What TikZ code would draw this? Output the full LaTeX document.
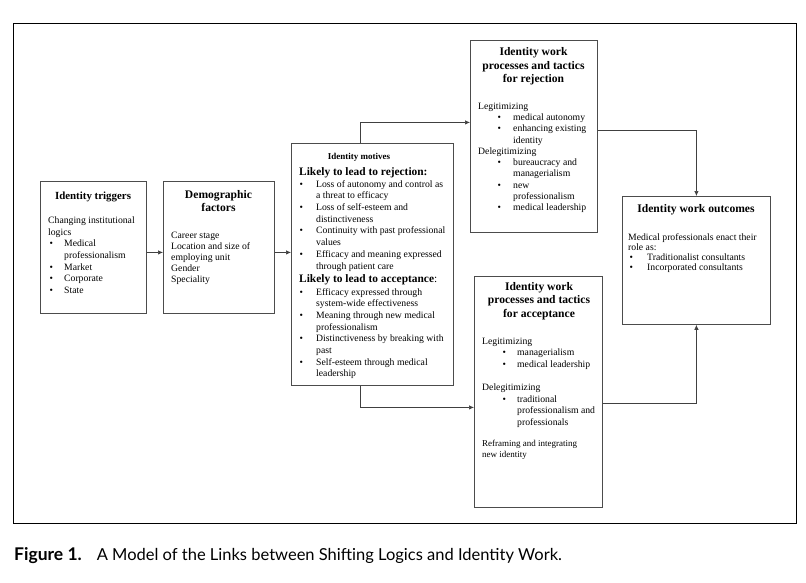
\documentclass[tikz,border=0pt]{standalone}
\usepackage{fontspec}
\setmainfont{Liberation Serif}
\newfontfamily\capfont{Lato}
\usetikzlibrary{arrows.meta}

\newlength{\bulpos}
\newlength{\bultext}
\newcommand{\bul}[1]{\makebox[\bultext][l]{\hspace*{\bulpos}\textbullet}#1}
\newcommand{\cnt}[1]{\hspace*{\bultext}#1}
\newcommand{\hdfont}{\fontsize{11.4}{13}\selectfont}

\tikzset{
  box/.style={draw=black!70, line width=0.8pt, inner sep=0pt, anchor=north west},
  ttl/.style={font=\bfseries\fontsize{11.6}{13.6}\selectfont, align=center, inner sep=0pt},
  txt/.style={font=\fontsize{9.7}{11.7}\selectfont, align=left, inner sep=0pt, anchor=north west},
  bullets/.style 2 args={execute at begin node={\global\bulpos=#1pt\global\bultext=#2pt}},
  arr/.style={draw=black!75, line width=0.7pt, -{Latex[length=5pt,width=4.5pt]}},
}

\begin{document}
\begin{tikzpicture}[x=1pt, y=-1pt]
\useasboundingbox (0,0) rectangle (806,582);
\draw[line width=0.9pt] (13,23) rectangle (796,523);

% boxes
\node[box, minimum width=106pt, minimum height=132pt] (trig) at (40,181) {};
\node[box, minimum width=111pt, minimum height=132pt] (demo) at (163,181) {};
\node[box, minimum width=162pt, minimum height=242pt] (mot) at (291,143) {};
\node[box, minimum width=127pt, minimum height=192pt] (rej) at (470,40) {};
\node[box, minimum width=128pt, minimum height=231pt] (acc) at (474,276) {};
\node[box, minimum width=148pt, minimum height=128pt] (out) at (622,196) {};

% identity triggers
\node[ttl, font=\bfseries\fontsize{10.9}{13}\selectfont] (trig-ttl) at (93,196.5) {Identity triggers};
\node[txt, bullets={1.3}{16}] (trig-txt) at (48,216.5) {Changing institutional\\
  logics\\
  \bul{Medical}\\
  \cnt{professionalism}\\
  \bul{Market}\\
  \bul{Corporate}\\
  \bul{State}};

% demographic factors
\node[ttl] (demo-ttl) at (218.5,201) {Demographic\\factors};
\node[txt, font=\fontsize{9.7}{11}\selectfont] (demo-txt) at (171,231.5) {Career stage\\
  Location and size of\\
  employing unit\\
  Gender\\
  Speciality};

% identity motives
\node[ttl, font=\bfseries\fontsize{9}{10}\selectfont] (mot-ttl) at (359,157) {Identity motives};
\node[txt, bullets={0.3}{17}] (mot-txt) at (299,167.3) {{\hdfont\bfseries Likely to lead to rejection:}\\
  \bul{Loss of autonomy and control as}\\
  \cnt{a threat to efficacy}\\
  \bul{Loss of self-esteem and}\\
  \cnt{distinctiveness}\\
  \bul{Continuity with past professional}\\
  \cnt{values}\\
  \bul{Efficacy and meaning expressed}\\
  \cnt{through patient care}\\[1.3pt]
  {\hdfont\textbf{Likely to lead to acceptance}:}\\[1.3pt]
  \bul{Efficacy expressed through}\\
  \cnt{system-wide effectiveness}\\
  \bul{Meaning through new medical}\\
  \cnt{professionalism}\\
  \bul{Distinctiveness by breaking with}\\
  \cnt{past}\\
  \bul{Self-esteem through medical}\\
  \cnt{leadership}};

% tactics for rejection
\node[ttl] (rej-ttl) at (533.5,66.5) {Identity work\\processes and tactics\\for rejection};
\node[txt, font=\fontsize{9.7}{11.3}\selectfont, bullets={19.3}{35}] (rej-txt) at (478,102.5) {Legitimizing\\
  \bul{medical autonomy}\\
  \bul{enhancing existing}\\
  \cnt{identity}\\
  Delegitimizing\\
  \bul{bureaucracy and}\\
  \cnt{managerialism}\\
  \bul{new}\\
  \cnt{professionalism}\\
  \bul{medical leadership}};

% tactics for acceptance
\node[ttl] (acc-ttl) at (539,301) {Identity work\\processes and tactics\\for acceptance};
\node[txt, bullets={20.3}{35}] (acc-txt) at (482,337.5) {Legitimizing\\
  \bul{managerialism}\\
  \bul{medical leadership}\\[11.3pt]
  Delegitimizing\\
  \bul{traditional}\\
  \cnt{professionalism and}\\
  \cnt{professionals}};
\node[txt, font=\fontsize{9}{10.5}\selectfont] (acc-note) at (482,440.2) {Reframing and integrating\\new identity};

% outcomes
\node[ttl] (out-ttl) at (696,209.5) {Identity work outcomes};
\node[txt, font=\fontsize{9.7}{10}\selectfont, bullets={1.3}{19}] (out-txt) at (628,233.5) {Medical professionals enact their\\
  role as:\\
  \bul{Traditionalist consultants}\\
  \bul{Incorporated consultants}};

% connectors
\draw[arr] ([yshift=-5pt]trig.east) -- ([yshift=-5pt]demo.west);
\draw[arr] ([yshift=-5pt]demo.east) -- ([yshift=-5pt]demo.east -| mot.west);
\draw[arr] ([xshift=69pt]mot.north west) |- ([yshift=14pt]rej.west);
\draw[arr] ([xshift=69pt]mot.south west) |- ([yshift=-15.5pt]acc.west);
\draw[arr] ([yshift=6pt]rej.east) -| (out.north);
\draw[arr] ([yshift=-11pt]acc.east) -| (out.south);

% caption
\node[anchor=west, inner sep=0pt, font=\capfont\fontsize{16.5}{19}\selectfont] (cap) at (14,556)
  {{\fontsize{17.5}{19}\selectfont\textbf{Figure 1.}}\hspace{15pt}A Model of the Links between Shifting Logics and Identity Work.};
\end{tikzpicture}
\end{document}
